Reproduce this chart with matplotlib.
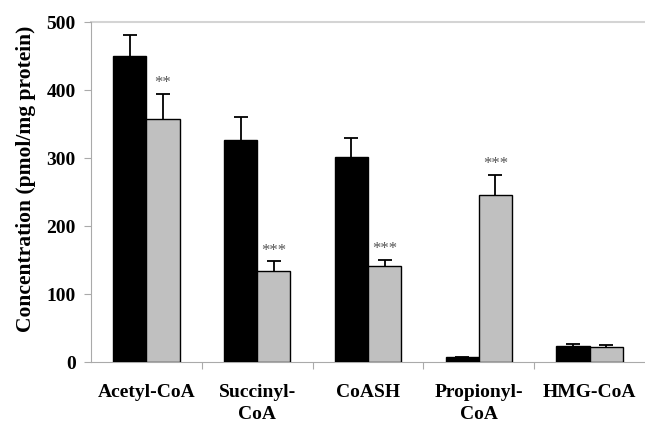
import matplotlib
matplotlib.use("Agg")
import matplotlib.pyplot as plt
import numpy as np

categories = ["Acetyl-CoA", "Succinyl-\nCoA", "CoASH", "Propionyl-\nCoA", "HMG-CoA"]
control_vals = [450, 327, 302, 8, 23.5]
control_err = [31, 34, 28, 0, 3]
treated_vals = [357, 134, 141, 246, 22]
treated_err = [37, 14, 9, 29, 3]
treated_sig = ["**", "***", "***", "***", ""]
yticks = [0, 100, 200, 300, 400, 500]

plt.rcParams["font.family"] = ["Liberation Serif", "DejaVu Serif"]

fig = plt.figure(figsize=(6.45, 4.25), dpi=100)
ax = fig.add_axes([0.141, 0.148, 0.859, 0.800])

x = np.arange(len(categories))
w = 0.30
err_kw = dict(fmt="none", ecolor="black", elinewidth=1.3, capsize=5, capthick=1.3, zorder=2)

ax.bar(x - w / 2, control_vals, w, color="black", edgecolor="black", linewidth=1, zorder=3)
ax.bar(x + w / 2, treated_vals, w, color="#c0c0c0", edgecolor="black", linewidth=1, zorder=3)
# upper-only error bars
for pos, vals, errs in [(x - w / 2, control_vals, control_err), (x + w / 2, treated_vals, treated_err)]:
    _, caps, _ = ax.errorbar(pos, vals, yerr=[np.zeros(len(x)), errs], **err_kw)
    caps[0].set_visible(False)

for xi, v, e, s in zip(x, treated_vals, treated_err, treated_sig):
    if s:
        ax.text(xi + w / 2, v + e + 4, s, ha="center", va="bottom",
                fontsize=12, color="#555555")

ax.set_xlim(-0.5, len(categories) - 0.5)
ax.set_ylim(0, 500)
ax.set_yticks(yticks)
ax.set_yticklabels([str(t) for t in yticks], fontsize=14, fontweight="bold")
ax.set_xticks(x)
ax.set_xticklabels(categories, fontsize=14, fontweight="bold", linespacing=1.35)
ax.set_xticks(np.arange(len(categories) - 1) + 0.5, minor=True)
ax.tick_params(axis="x", which="major", length=0, pad=16)
ax.tick_params(axis="x", which="minor", length=5, color="#aaaaaa", width=0.8)
ax.tick_params(axis="y", length=5, color="#aaaaaa", width=0.8, pad=6)

ax.set_ylabel("Concentration (pmol/mg protein)", fontsize=15.5, fontweight="bold")
ax.yaxis.set_label_coords(-0.1, 0.54)

for side in ["top", "right"]:
    ax.spines[side].set_visible(False)
for side in ["left", "bottom"]:
    ax.spines[side].set_color("#aaaaaa")
    ax.spines[side].set_linewidth(0.8)

ax.axhline(500, color="#d4d4d4", linewidth=1.5, zorder=1, clip_on=False)

fig.savefig("out.png", dpi=100)
